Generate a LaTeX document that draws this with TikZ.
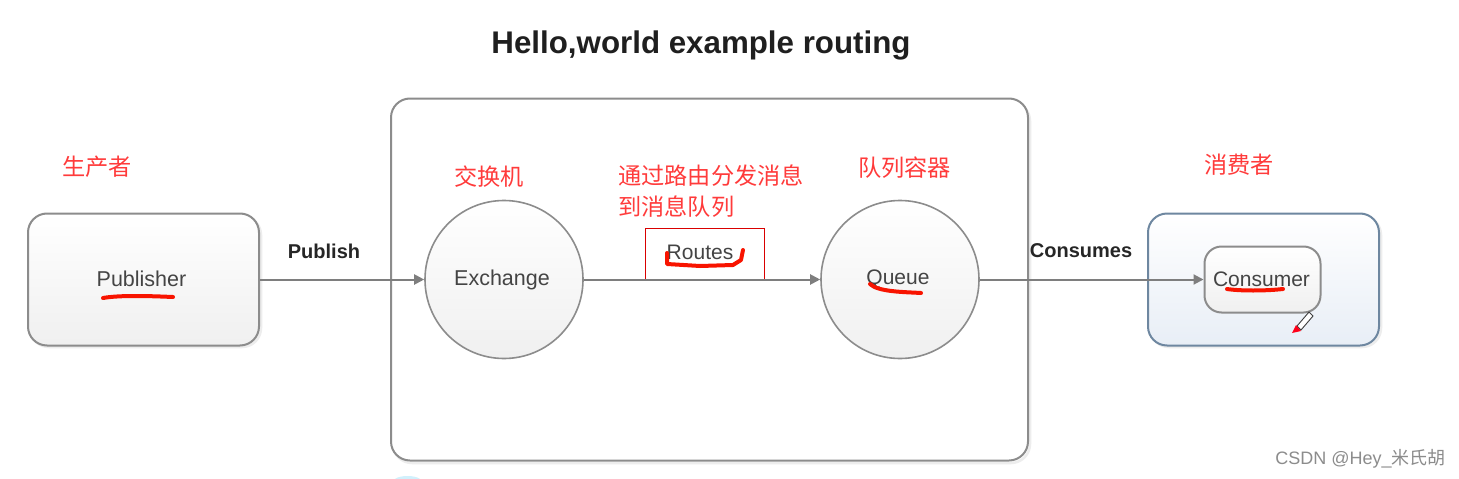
\documentclass[tikz,border=0pt]{standalone}
\usepackage{fontspec}
\setmainfont{Liberation Sans}
\newfontfamily\cjk{Noto Sans CJK SC}
\usetikzlibrary{arrows.meta}
\definecolor{edgegray}{HTML}{8C8C8C}
\definecolor{lbl}{HTML}{444444}
\definecolor{redtxt}{HTML}{FF3B3B}
\definecolor{marker}{HTML}{F81400}
\definecolor{slateedge}{HTML}{6E87A0}
\definecolor{palesteel}{HTML}{E8EEF6}
\tikzset{
  x=1pt,y=-1pt,
  softshadow/.style={draw=black!7,line width=2.5pt},
  roundbox/.style={draw=edgegray,line width=2pt,rounded corners=19pt,inner sep=0pt,top color=white,bottom color=black!6,font=\fontsize{21.5}{24}\selectfont,text=lbl},
  ball/.style={circle,draw=edgegray,line width=1.6pt,inner sep=0pt,minimum size=158pt,top color=white,bottom color=black!6,font=\fontsize{21.5}{24}\selectfont,text=lbl},
  flow/.style={draw=edgegray!90!black,line width=2pt,-{Triangle[length=10pt,width=10pt]}},
  edgetext/.style={font=\bfseries\fontsize{20}{24}\selectfont,text=black!85,inner sep=0pt},
  zh/.style={font=\cjk\fontsize{23.2}{31.5}\selectfont,text=redtxt,inner sep=0pt,align=left,anchor=west},
  redpen/.style={draw=marker,line width=4pt,line cap=round,line join=round},
}
\begin{document}
\begin{tikzpicture}
\path[use as bounding box,fill=white] (0,0) rectangle (1459,479);
% faint cyan remnant at the bottom
\fill[cyan!18] (395,479) .. controls (400,475) and (415,475) .. (420,479) -- cycle;
% shadows
\draw[softshadow,rounded corners=19pt] (393,102) rectangle (1030,463);
\draw[softshadow,rounded corners=19pt] (30,216) rectangle (261,347);
\draw[softshadow,rounded corners=19pt] (1150,216) rectangle (1381,347);
% title
\node[inner sep=0pt,text=black!88,font=\bfseries\fontsize{31.3}{38}\selectfont] (title) at (701,45) {Hello,world example routing};
% containers
\node[roundbox,top color=white,bottom color=white,minimum width=637pt,minimum height=362pt] (broker) at (709.5,279.5) {};
\node[roundbox,minimum width=231pt,minimum height=132pt] (publisher) at (143.5,279.5) {\hspace{-4pt}\raisebox{1pt}{Publisher}};
\node[roundbox,draw=slateedge,top color=white,bottom color=palesteel,minimum width=231pt,minimum height=132pt] (consumerbox) at (1263.5,279.5) {};
\node[roundbox,minimum width=116pt,minimum height=66pt,rounded corners=17pt,font=\fontsize{21}{24}\selectfont] (consumer) at (1262.5,279.5) {\hspace{-2pt}Consumer};
\node[ball] (exchange) at (504,279.5) {\hspace{-4pt}\raisebox{-1pt}{Exchange}};
\node[ball,font=\fontsize{21}{24}\selectfont] (queue) at (900,279.5) {\hspace{-4pt}\raisebox{-2pt}{Queue}};
% routes box
\node[draw=red!85!black,line width=.8pt,fill=white,minimum width=119pt,minimum height=51pt,inner sep=0pt] (routebox) at (704.5,253.5) {};
\node[inner sep=0pt,text=lbl,font=\fontsize{21}{24}\selectfont] (routes) at (700,252) {Routes};
% connectors
\draw[flow] (publisher.east) -- (exchange.west);
\draw[flow] (exchange.east) -- (queue.west);
\draw[flow] (queue.east) -- (consumer.west);
% connector labels
\node[edgetext] (publish) at (324,251) {Publish};
\node[edgetext] (consumes) at (1081,251) {Consumes};
% red annotations
\node[zh] (zhpub) at (62,167) {生产者};
\node[zh] (zhexc) at (454,177) {交换机};
\node[zh] (zhrou) at (618,191) {通过路由分发消息\\到消息队列};
\node[zh] (zhque) at (858,168) {队列容器};
\node[zh] (zhcon) at (1204,165) {消费者};
% red pen strokes
\draw[redpen] (103,298) .. controls (120,295) and (150,296) .. (173,297);
\draw[redpen] (667,253) -- (667,264) -- (700,266) -- (733,265) -- (741,260) -- (743,250);
\draw[redpen] (870,284) .. controls (878,292) and (905,292) .. (921,293);
\draw[redpen] (1227,289) .. controls (1240,291) and (1265,291) .. (1283,289);
% pencil cursor
\draw[black!75,fill=white,line width=.9pt] (1297,326) -- (1309,312) -- (1313,316) -- (1301,330) -- cycle;
\fill[red!90!magenta] (1296,325) -- (1301,331) -- (1292,333) -- cycle;
% watermark
\node[inner sep=0pt,text=black!45,font=\fontsize{18}{22}\selectfont] (mark) at (1360.5,459) {CSDN @Hey\_{\cjk 米氏胡}};
\end{tikzpicture}
\end{document}
